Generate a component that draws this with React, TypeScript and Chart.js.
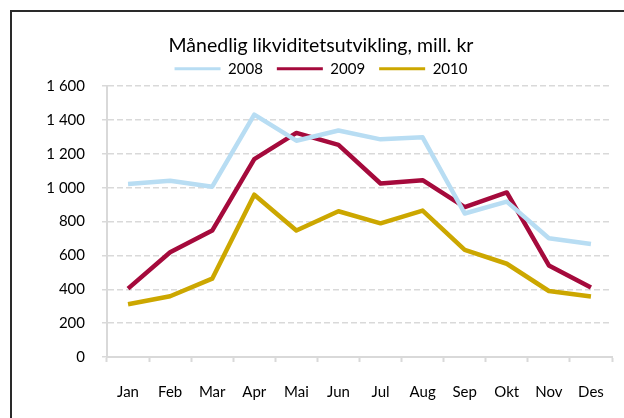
import React, { useEffect, useRef } from "react";
import { Chart, registerables } from "chart.js";

Chart.register(...registerables);

const TITLE = "Månedlig likviditetsutvikling, mill. kr";
const MONTHS = ["Jan", "Feb", "Mar", "Apr", "Mai", "Jun", "Jul", "Aug", "Sep", "Okt", "Nov", "Des"];
const SERIES_NAMES = ["2008", "2009", "2010"];
const Y2008 = [1022, 1041, 1006, 1432, 1278, 1338, 1286, 1298, 848, 918, 702, 668];
const Y2009 = [404, 619, 747, 1169, 1324, 1253, 1025, 1045, 886, 972, 541, 410];
const Y2010 = [312, 359, 463, 959, 747, 861, 790, 865, 633, 551, 390, 358];
const COLORS = ["#B8DDF3", "#A50A3C", "#CCA700"];
const Y_MIN = 0;
const Y_MAX = 1600;
const Y_STEP = 200;

const fmt = (v: number) => {
  if (v >= 1000) {
    const th = Math.floor(v / 1000);
    const rest = String(v % 1000).padStart(3, "0");
    return `${th} ${rest}`;
  }
  return String(v);
};

export default function App() {
  const ref = useRef<HTMLCanvasElement | null>(null);

  useEffect(() => {
    let chart: Chart | null = null;
    let cancelled = false;
    const build = () => {
      if (cancelled || !ref.current) return;
      Chart.defaults.font.family = "Lato";
      Chart.defaults.color = "#000";
      const data = [Y2008, Y2009, Y2010];
      chart = new Chart(ref.current, {
        type: "line",
        data: {
          labels: MONTHS,
          datasets: SERIES_NAMES.map((name, i) => ({
            label: name,
            data: data[i],
            borderColor: COLORS[i],
            backgroundColor: COLORS[i],
            borderWidth: 4.5,
            borderJoinStyle: "round" as const,
            pointRadius: 0,
            tension: 0,
            fill: false,
          })),
        },
        options: {
          animation: false,
          responsive: false,
          devicePixelRatio: 1,
          events: [],
          layout: { padding: { left: 0, right: 0, top: 0, bottom: 0 } },
          plugins: {
            tooltip: { enabled: false },
            title: {
              display: true,
              text: TITLE,
              color: "#000",
              font: { size: 19.5, weight: "normal", family: "Lato" },
              padding: { top: 20.8, bottom: -10 },
            },
            legend: {
              display: true,
              position: "top",
              labels: {
                font: { size: 15, family: "Lato" },
                color: "#000",
                boxWidth: 46,
                boxHeight: 3,
                padding: 14,
                generateLabels: (c: Chart) =>
                  Chart.defaults.plugins.legend.labels.generateLabels(c).map((l: any) => ({
                    ...l,
                    lineWidth: 0,
                    fillStyle: l.strokeStyle,
                  })),
              },
            },
          },
          scales: {
            x: {
              type: "category",
              offset: true,
              grid: {
                display: true,
                drawOnChartArea: false,
                drawTicks: true,
                offset: true,
                tickLength: 5,
                tickColor: "#d9d9d9",
                tickWidth: 2,
              },
              border: { display: true, color: "#d9d9d9", width: 2 },
              ticks: { font: { size: 15, family: "Lato" }, color: "#000", padding: 21, maxRotation: 0, autoSkip: false },
              afterFit: (s: any) => {
                s.height = 61;
              },
            },
            y: {
              type: "linear",
              position: "left",
              min: Y_MIN,
              max: Y_MAX,
              ticks: {
                stepSize: Y_STEP,
                font: { size: 15, family: "Lato" },
                color: "#000",
                padding: 17,
                callback: (v: any) => fmt(Number(v)),
              },
              grid: {
                color: (ctx: any) => (ctx.tick && ctx.tick.value === 0 ? "rgba(0,0,0,0)" : "#d9d9d9"),
                lineWidth: 1.5,
                tickLength: 5,
                tickColor: "#d9d9d9",
                tickWidth: 1.5,
                tickBorderDash: [],
              },
              border: { display: true, color: "#d9d9d9", width: 2, dash: [6, 3] },
              afterFit: (s: any) => {
                s.width = 95;
              },
            },
            yR: {
              type: "linear",
              position: "right",
              display: true,
              grid: { display: false, drawTicks: false },
              border: { display: false },
              ticks: { display: false },
              afterFit: (s: any) => {
                s.width = 18;
              },
            },
          },
        },
      });
    };
    const p = (document as any).fonts
      ? Promise.all([
          (document as any).fonts.load("19px Lato"),
          (document as any).fonts.load("15px Lato"),
        ]).catch(() => null)
      : Promise.resolve();
    p.then(build);
    return () => {
      cancelled = true;
      if (chart) chart.destroy();
    };
  }, []);

  return (
    <div
      style={{
        position: "fixed",
        left: 0,
        top: 0,
        width: 624,
        height: 418,
        overflow: "hidden",
        background: "#fff",
      }}
    >
      <div
        style={{
          position: "absolute",
          left: 10,
          top: 10,
          width: 700,
          height: 500,
          borderLeft: "2px solid #2a2a2a",
          borderTop: "2px solid #2a2a2a",
        }}
      />
      <canvas
        ref={ref}
        width={618}
        height={405}
        style={{ position: "absolute", left: 12, top: 13, width: 618, height: 405 }}
      />
    </div>
  );
}
